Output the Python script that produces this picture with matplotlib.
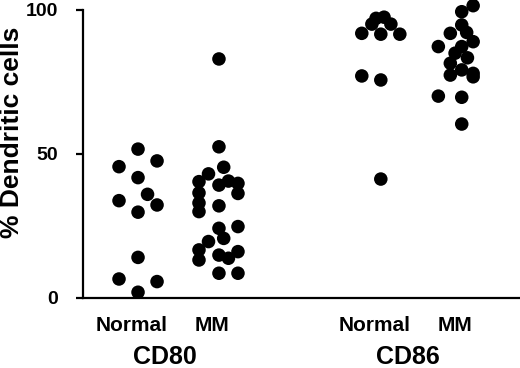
import matplotlib
matplotlib.use("Agg")
import matplotlib.pyplot as plt
import numpy as np

plt.rcParams['font.family'] = ['Liberation Sans', 'DejaVu Sans']
plt.rcParams['font.weight'] = 'bold'

groups = ["CD80", "CD86"]
conditions = ["Normal", "MM"]

cd80_normal = [51.7, 47.6, 45.6, 41.8, 36.0, 33.8, 32.3, 29.8, 14.1, 6.6, 5.7, 2.0]
cd80_normal_jit = [0, 1, -1, 0, 0.5, -1, 1, 0, 0, -1, 1, 0]

cd80_mm = [83.0, 52.5, 45.4, 43.1, 40.4, 36.5, 33.0, 30.0, 39.2, 40.6, 39.8, 36.3,
           32.0, 24.2, 24.8, 19.6, 20.7, 16.7, 13.2, 14.9, 13.8, 16.1, 8.6, 8.6]
cd80_mm_jit = [0, 0, 0.25, -0.55, -1.05, -1.05, -1.05, -1.05, 0, 0.5, 1, 1,
               0, 0, 1, -0.55, 0.25, -1.05, -1.05, 0, 0.5, 1, 0, 1]

cd86_normal = [97.5, 97.1, 95.1, 95.1, 91.9, 91.6, 91.6, 77.1, 75.7, 41.3]
cd86_normal_jit = [0.17, -0.25, -0.47, 0.53, -1, 0, 1, -1, 0, 0]

cd86_mm = [101.5, 99.4, 94.8, 91.9, 92.2, 89.0, 87.3, 87.3, 85.0, 83.4, 81.5,
           77.4, 79.2, 78.0, 76.8, 70.1, 69.7, 60.4]
cd86_mm_jit = [0.6, 0, 0, -0.6, 0.26, 0.6, -1.23, 0, -0.35, 0.3, -0.6,
               -0.6, 0, 0.6, 0.6, -1.23, 0, 0]

positions = [0, 1, 3, 4]
series = [(cd80_normal, cd80_normal_jit), (cd80_mm, cd80_mm_jit),
          (cd86_normal, cd86_normal_jit), (cd86_mm, cd86_mm_jit)]

spread = 0.235  # jitter unit in data coordinates

fig = plt.figure(figsize=(5.2, 3.68), dpi=100)
ax = fig.add_axes([83 / 520, 70 / 368, 437 / 520, 288 / 368])

for pos, (vals, jit) in zip(positions, series):
    xs = pos + np.array(jit) * spread
    ax.scatter(xs, vals, s=95, color='black', edgecolors='none', zorder=3, clip_on=False)

ax.set_xlim(-0.68, 4.72)
ax.set_ylim(0, 100)

for side in ['top', 'right']:
    ax.spines[side].set_visible(False)
ax.spines['left'].set_linewidth(1.6)
ax.spines['bottom'].set_linewidth(1.6)

ax.set_yticks([0, 50, 100])
ax.set_yticklabels(['0', '50', '100'], fontsize=14, fontweight='bold')
ax.tick_params(axis='y', length=5, width=1.6, pad=13)

label_shift = -0.08
ax.set_xticks([p + label_shift for p in positions])
ax.set_xticklabels(conditions * 2, fontsize=15, fontweight='bold')
ax.tick_params(axis='x', length=0, pad=13)

for i, g in enumerate(groups):
    cx = (positions[2 * i] + positions[2 * i + 1]) / 2 - 0.17
    ax.text(cx, -0.162, g, transform=ax.get_xaxis_transform(), ha='center', va='top',
            fontsize=18, fontweight='bold')

ax.set_ylabel('% Dendritic cells', fontsize=19, fontweight='bold')
ax.yaxis.set_label_coords(-0.135, 0.576)

fig.savefig('out.png', dpi=100)
